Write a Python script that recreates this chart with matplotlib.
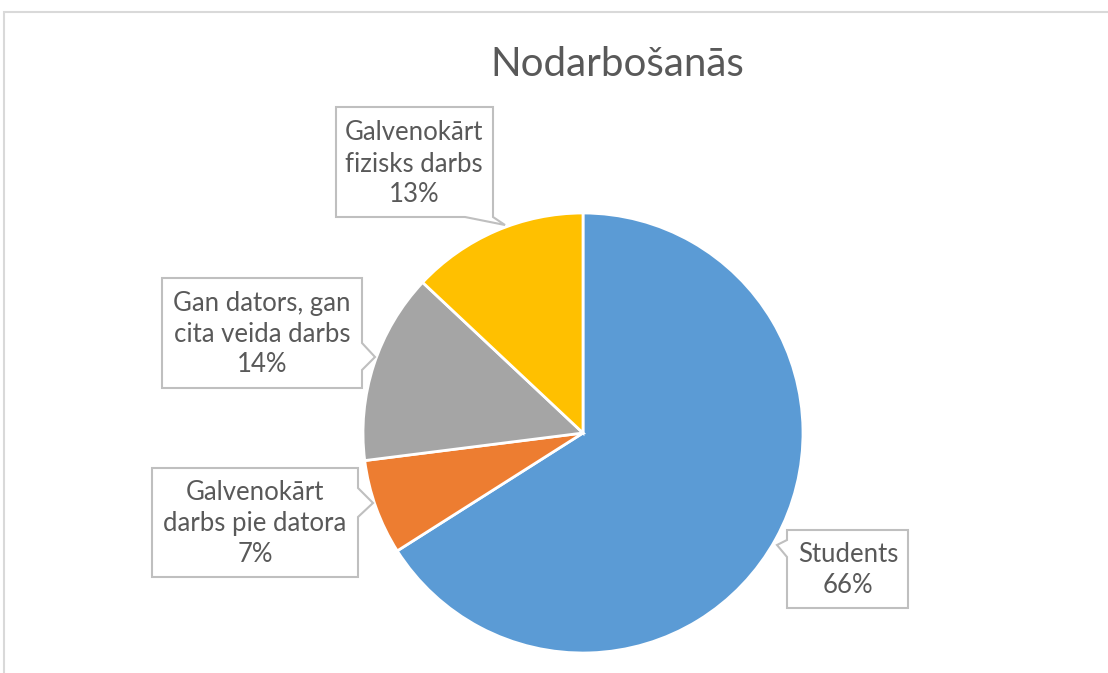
import matplotlib
matplotlib.use("Agg")
import matplotlib.pyplot as plt
from matplotlib.patches import Polygon

# data
labels = ["Students", "Galvenokārt\ndarbs pie datora", "Gan dators, gan\ncita veida darbs", "Galvenokārt\nfizisks darbs"]
shares = [66, 7, 14, 13]
colors = ["#5B9BD5", "#ED7D31", "#A5A5A5", "#FFC000"]
title = "Nodarbošanās"

W, H = 1108, 673


def Y(py):
    return H - py


# callout outlines in pixel coords (x, y from top), with pointer
callouts = [
    [(787, 530), (908, 530), (908, 608), (787, 608), (787, 557), (777, 545), (787, 540)],
    [(152, 468), (358, 468), (358, 488), (373, 503), (358, 517), (358, 577), (152, 577)],
    [(162, 278), (362, 278), (362, 343), (375, 357), (362, 370), (362, 388), (162, 388)],
    [(336, 107), (493, 107), (493, 217), (505, 225), (465, 217), (336, 217)],
]
text_pos = [(848, 570), (255, 524), (262, 334), (414, 164)]

fig = plt.figure(figsize=(W / 100, H / 100), dpi=100)
ax = fig.add_axes([0, 0, 1, 1])

ax.pie(shares, colors=colors, startangle=90, counterclock=False,
       center=(583, Y(433)), radius=220, frame=True,
       wedgeprops=dict(edgecolor="white", linewidth=2))

for pts, (tx, ty), lab, v in zip(callouts, text_pos, labels, shares):
    poly = Polygon([(x, Y(y)) for x, y in pts], closed=True, facecolor="white",
                   edgecolor="#BFBFBF", linewidth=1.5, zorder=3)
    ax.add_patch(poly)
    ax.text(tx, Y(ty), f"{lab}\n{v}%", ha="center", va="center", fontsize=18.5,
            color="#595959", family="Lato", linespacing=1.3, zorder=4)

ax.text(617, Y(65), title, ha="center", va="center", fontsize=29,
        color="#595959", family="Lato")

# chart frame
ax.plot([4, 4, W + 5], [Y(H + 5), Y(12), Y(12)], color="#D9D9D9", lw=1.5,
        solid_joinstyle="miter", clip_on=False)

ax.set_xlim(0, W)
ax.set_ylim(0, H)
ax.set_aspect("auto")
ax.axis("off")

fig.savefig("out.png", dpi=100)
